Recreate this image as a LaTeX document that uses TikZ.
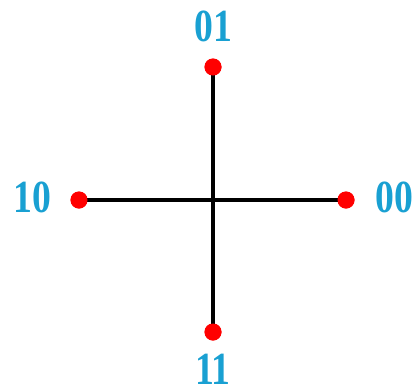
\documentclass[tikz,border=0pt]{standalone}
\usepackage{fontspec}
\setmainfont{Liberation Serif}
\definecolor{lbl}{RGB}{25,160,210}
\definecolor{dotred}{RGB}{255,0,0}
\begin{document}
\begin{tikzpicture}[x=1pt,y=-1pt,
  dotnode/.style={circle,fill=dotred,inner sep=0pt,minimum size=17pt},
  lblnode/.style={inner sep=0pt,text=lbl,font=\fontsize{46}{50}\selectfont\bfseries,xscale=0.82},
  arm/.style={line width=4pt,black}]
\useasboundingbox (0,0) rectangle (415,384);
\coordinate (c) at (213,200);
\node[dotnode] (t) at (213,67) {};
\node[dotnode] (b) at (213,332) {};
\node[dotnode] (l) at (79,200) {};
\node[dotnode] (r) at (346,200) {};
\begin{scope}[on background layer/.try]
\end{scope}
\draw[arm] (t.center) -- (b.center);
\draw[arm] (l.center) -- (r.center);
\node[dotnode] at (t) {};
\node[dotnode] at (b) {};
\node[dotnode] at (l) {};
\node[dotnode] at (r) {};
\node[lblnode] (lt) at (213,26) {01};
\node[lblnode] (lb) at (213,369) {11};
\node[lblnode] (ll) at (32,197) {10};
\node[lblnode] (lr) at (394,197) {00};
\end{tikzpicture}
\end{document}
